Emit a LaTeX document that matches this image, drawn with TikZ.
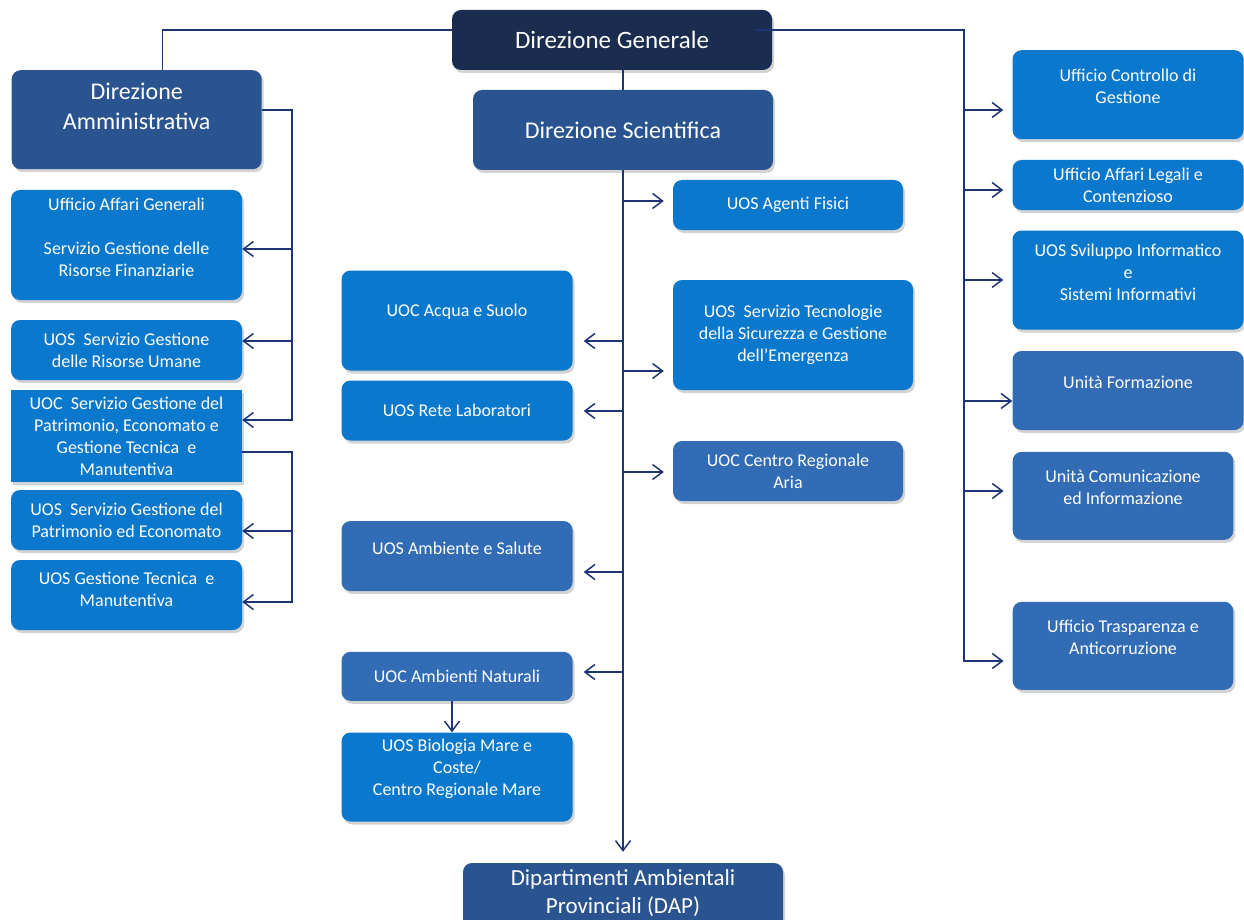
\documentclass[tikz,border=0pt]{standalone}
\usepackage{fontspec}
\setmainfont{Carlito}
\usepackage{tikz}
\usetikzlibrary{positioning}
\usetikzlibrary{arrows.meta,shadows}

\definecolor{dgblue}{HTML}{1A2D4F}
\definecolor{dirblue}{HTML}{2A5490}
\definecolor{uoblue}{HTML}{0A78CC}
\definecolor{unblue}{HTML}{316CB5}
\definecolor{linkblue}{HTML}{1F3474}

\newcommand\boxfont{\fontsize{18}{22}\selectfont}
\newcommand\headfont{\fontsize{24}{30}\selectfont}

\tikzset{
  org/.style={rounded corners=9pt, minimum width=231pt, inner sep=0pt,
    drop shadow={shadow xshift=2pt, shadow yshift=-3pt, opacity=.35}},
  dgbox/.style={org, fill=dgblue},
  dirbox/.style={org, fill=dirblue},
  uobox/.style={org, fill=uoblue},
  unbox/.style={org, fill=unblue},
  lbl/.style={text=white, align=center, font=\boxfont},
  hlbl/.style={lbl, font=\headfont},
  conn/.style={draw=linkblue, line width=1.5pt},
  arr/.style={conn, -{Straight Barb[length=10pt,width=15pt]}}
}

\begin{document}
\begin{tikzpicture}[x=1pt,y=-1pt]
\useasboundingbox (0,0) rectangle (1244,920);

% direzioni
\node[dgbox, minimum width=320pt, minimum height=60pt,
  label={[hlbl, font=\fontsize{25}{30}\selectfont]center:Direzione Generale}] (dg) at (612,40) {};
\node[dirbox, minimum width=250pt, minimum height=99pt,
  label={[hlbl, yshift=13pt]center:Direzione\\Amministrativa}] (dadm) at (136.7,119.7) {};
\node[dirbox, minimum width=300pt, minimum height=80pt,
  label={[hlbl]center:Direzione Scientifica}] (dsci) at (623,130) {};
\node[dirbox, minimum width=320pt, minimum height=72pt,
  label={[hlbl, font=\fontsize{23}{28}\selectfont, yshift=6pt]center:Dipartimenti Ambientali\\Provinciali (DAP)}] (dap) at (623,899) {};

% colonna amministrativa
\node[uobox, minimum height=110pt,
  label={[lbl, yshift=8pt]center:Ufficio Affari Generali\\[22pt]Servizio Gestione delle\\Risorse Finanziarie}] (agen) at (126.5,245) {};
\node[uobox, minimum height=60pt,
  label={[lbl]center:UOS~ Servizio Gestione\\delle Risorse Umane}] (uru) at (126.5,350) {};
\node[uobox, sharp corners, minimum height=92pt,
  label={[lbl]center:UOC~ Servizio Gestione del\\Patrimonio, Economato e\\Gestione Tecnica~ e\\Manutentiva}] (upat) at (126.5,436) {};
\node[uobox, minimum height=60pt,
  label={[lbl]center:UOS~ Servizio Gestione del\\Patrimonio ed Economato}] (upe) at (126.5,520) {};
\node[uobox, minimum height=70pt,
  label={[lbl, yshift=6pt]center:UOS Gestione Tecnica~ e\\Manutentiva}] (ugt) at (126.5,595) {};

% colonna scientifica
\node[uobox, minimum width=230pt, minimum height=50pt,
  label={[lbl]center:UOS Agenti Fisici}] (uaf) at (788,205) {};
\node[uobox, minimum width=240pt, minimum height=110pt,
  label={[lbl]center:UOS~ Servizio Tecnologie\\della Sicurezza e Gestione\\dell’Emergenza}] (utec) at (793,335) {};
\node[unbox, minimum width=230pt, minimum height=60pt,
  label={[lbl]center:UOC Centro Regionale\\Aria}] (ucra) at (788,471) {};
\node[uobox, minimum height=100pt,
  label={[lbl, yshift=9pt]center:UOC Acqua e Suolo}] (uas) at (457,320.5) {};
\node[uobox, minimum height=60pt,
  label={[lbl]center:UOS Rete Laboratori}] (url) at (457,410.5) {};
\node[unbox, minimum height=70pt,
  label={[lbl, yshift=8pt]center:UOS Ambiente e Salute}] (uamb) at (457,556) {};
\node[unbox, minimum height=49pt,
  label={[lbl]center:UOC Ambienti Naturali}] (unat) at (457,676.3) {};
\node[uobox, minimum height=89pt,
  label={[lbl, yshift=8.7pt]center:UOS Biologia Mare e\\Coste/\\Centro Regionale Mare}] (ubio) at (457,777) {};

% colonna staff
\node[uobox, minimum height=89pt,
  label={[lbl, yshift=8pt]center:Ufficio Controllo di\\Gestione}] (ucon) at (1128,94.7) {};
\node[uobox, minimum height=50pt,
  label={[lbl]center:Ufficio Affari Legali e\\Contenzioso}] (uleg) at (1128,185) {};
\node[uobox, minimum height=99pt,
  label={[lbl, yshift=7.5pt]center:UOS Sviluppo Informatico\\e\\Sistemi Informativi}] (usi) at (1128,280) {};
\node[unbox, minimum height=79pt,
  label={[lbl, yshift=8pt]center:Unità Formazione}] (ufor) at (1128,390.5) {};
\node[unbox, minimum width=220.6pt, minimum height=88pt,
  label={[lbl, yshift=8pt]center:Unità Comunicazione\\ed Informazione}] (ucom) at (1123,495.8) {};
\node[unbox, minimum width=220.6pt, minimum height=88pt,
  label={[lbl, yshift=8pt]center:Ufficio Trasparenza e\\Anticorruzione}] (utra) at (1123,645.8) {};

% collegamenti
\coordinate (lk) at (292,110);
\coordinate (lp) at (292,452);
\coordinate (rk) at (964,30);

\draw[conn] ([yshift=10pt]dg.west) -| ([xshift=26pt]dadm.north);
\draw[conn] (dsci.north |- dg.south) -- (dsci.north);
\draw[arr, shorten >=11pt] (dsci.south) -- (dap.north);

\draw[arr] (dadm.east |- lk) -- (lk) |- (upat.east |- 0,420);
\draw[arr] (lk |- 0,249) -- (agen.east |- 0,249);
\draw[arr] (lk |- 0,341) -- (uru.east |- 0,341);
\draw[arr] (upat.east |- lp) -- (lp) |- (ugt.east |- 0,602);
\draw[arr] (lp |- 0,531) -- (upe.east |- 0,531);

\draw[arr, shorten >=9pt] ([xshift=-17pt,yshift=10pt]dg.east) -- (rk) |- (utra.west |- 0,661);
\draw[arr, shorten >=9pt] (rk |- 0,110) -- (ucon.west |- 0,110);
\draw[arr, shorten >=9pt] (rk |- 0,190) -- (uleg.west |- 0,190);
\draw[arr, shorten >=9pt] (rk |- 0,280) -- (usi.west |- 0,280);
\draw[arr] (rk |- 0,401) -- (ufor.west |- 0,401);
\draw[arr, shorten >=9pt] (rk |- 0,491) -- (ucom.west |- 0,491);

\draw[arr, shorten >=9pt] (dsci.south |- 0,201) -- (uaf.west |- 0,201);
\draw[arr, shorten >=9pt] (dsci.south |- 0,371) -- (utec.west |- 0,371);
\draw[arr, shorten >=9pt] (dsci.south |- 0,472) -- (ucra.west |- 0,472);
\draw[arr, shorten >=11pt] (dsci.south |- 0,341) -- (uas.east |- 0,341);
\draw[arr, shorten >=11pt] (dsci.south |- 0,411) -- (url.east |- 0,411);
\draw[arr, shorten >=11pt] (dsci.south |- 0,572) -- (uamb.east |- 0,572);
\draw[arr, shorten >=11pt] (dsci.south |- 0,672) -- (unat.east |- 0,672);
\draw[arr] ([xshift=-5pt]unat.south) -- ([xshift=-5pt]ubio.north);
\end{tikzpicture}
\end{document}
